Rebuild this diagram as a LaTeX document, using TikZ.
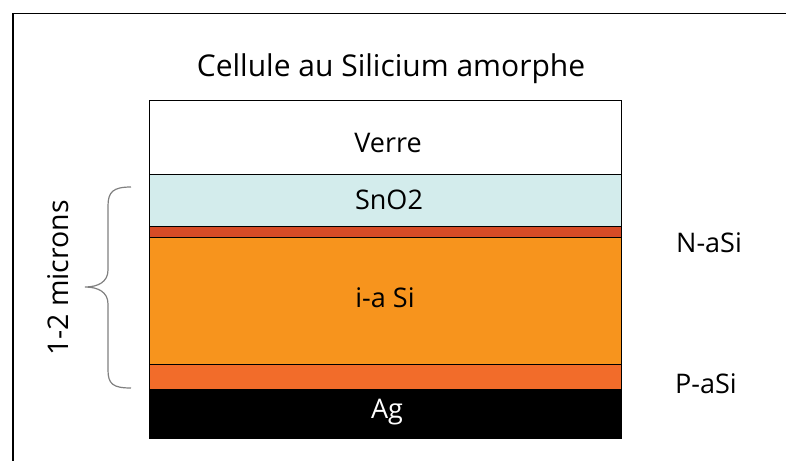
\documentclass[tikz,border=0pt]{standalone}
\usepackage{fontspec}
\setmainfont{Open Sans}
\definecolor{snocol}{HTML}{D3ECEC}
\definecolor{ncol}{HTML}{D64B26}
\definecolor{icol}{HTML}{F7941D}
\definecolor{pcol}{HTML}{F26C2A}
\definecolor{bracecol}{HTML}{808080}
\begin{document}
\begin{tikzpicture}[x=1pt,y=-1pt,
  layerbox/.style={draw=black, line width=1pt},
  lbl/.style={font=\fontsize{27}{32}\selectfont, inner sep=0pt, anchor=center}]
\useasboundingbox (0,0) rectangle (786,460);
\clip (0,0) rectangle (786,460);
% outer frame
\draw[line width=1.6pt] (13,480) -- (13,13.5) -- (800,13.5);
% layer stack
\path[layerbox, fill=white]  (149,100) rectangle (621,174);
\path[layerbox, fill=snocol] (149,174) rectangle (621,226);
\path[layerbox, fill=ncol]   (149,226) rectangle (621,237);
\path[layerbox, fill=icol]   (149,237) rectangle (621,364);
\path[layerbox, fill=pcol]   (149,364) rectangle (621,389);
\path[layerbox, fill=black]  (149,389) rectangle (621,438);
% texts
\node[lbl, font=\fontsize{30}{34}\selectfont] (title) at (391,69) {Cellule au Silicium amorphe};
\node[lbl] (verre) at (388,143) {Verre};
\node[lbl] (sno)   at (389,200) {SnO2};
\node[lbl] (isi)   at (385,298) {i-a Si};
\node[lbl, text=white] (ag) at (387,412) {Ag};
\node[lbl] (nasi)  at (709,243) {N-aSi};
\node[lbl] (pasi)  at (706,384) {P-aSi};
\node[lbl, rotate=90, font=\fontsize{28.5}{32}\selectfont] (microns) at (58,278) {1-2 microns};
% thickness brace
\draw[bracecol, line width=1.2pt]
  (131,187) .. controls (113,187) and (108,192) .. (108,206)
  -- (108,270) .. controls (108,282) and (98,287) .. (85,287)
  .. controls (98,287) and (108,292) .. (108,304)
  -- (108,370) .. controls (108,384) and (113,388) .. (131,388);
\end{tikzpicture}
\end{document}
